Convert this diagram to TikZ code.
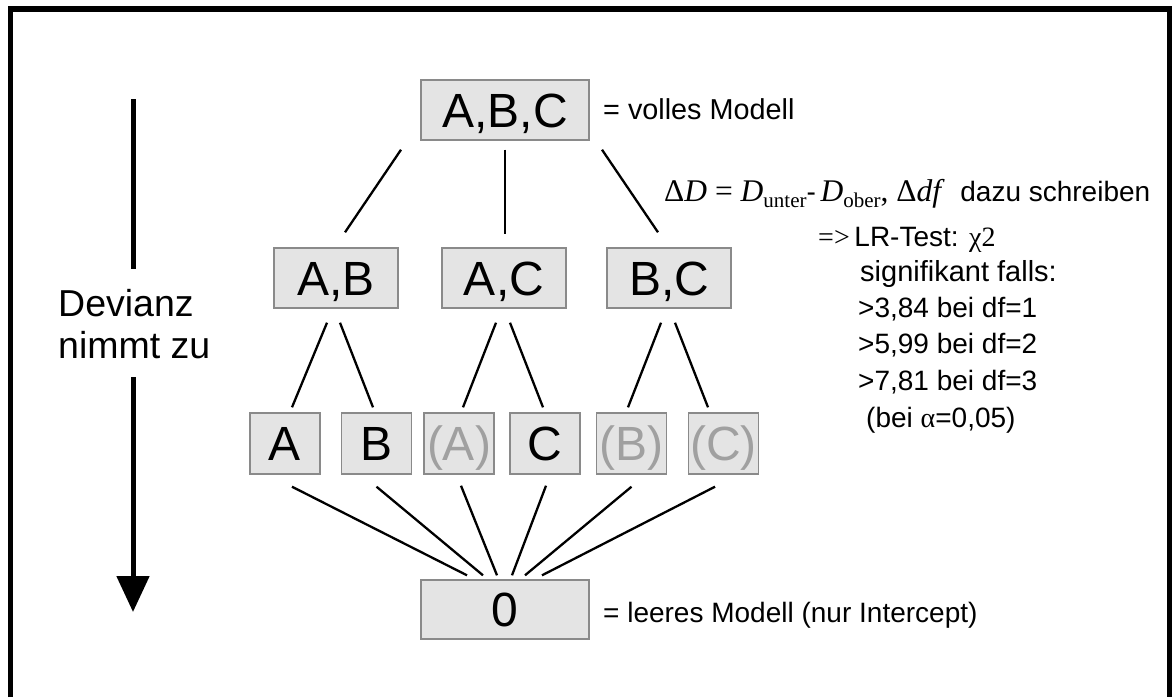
\documentclass[tikz,border=0pt]{standalone}
\usepackage{fontspec}
\setmainfont{Liberation Sans}
\newfontfamily\tim{Liberation Serif}
\usetikzlibrary{arrows.meta}
\definecolor{boxfill}{HTML}{E4E4E4}
\definecolor{boxline}{HTML}{8A8A8A}
\definecolor{fadetext}{HTML}{A0A0A0}
\begin{document}
\begin{tikzpicture}[x=1pt,y=-1pt,
  modelbox/.style={draw=boxline, fill=boxfill, line width=1.4pt, inner sep=0pt,
    font=\fontsize{48}{48}\selectfont, text height=34.4pt, text depth=0pt},
  bigbox/.style={modelbox, minimum width=168pt, minimum height=60pt},
  midbox/.style={modelbox, minimum width=124pt, minimum height=60pt},
  smallbox/.style={modelbox, minimum width=70pt, minimum height=61pt},
  faded/.style={text=fadetext},
  conn/.style={line width=2.3pt},
  lbl/.style={anchor=base west, inner sep=0pt, font=\fontsize{28}{28}\selectfont},
  devlbl/.style={anchor=base west, inner sep=0pt, font=\fontsize{37.5}{37.5}\selectfont},
]
\useasboundingbox (0,0) rectangle (1172,697);
\fill[white] (0,0) rectangle (1172,697);
\draw[line width=5.5pt] (10.5,697) -- (10.5,9) -- (1169.5,9) -- (1169.5,697);

% model nodes
\node[bigbox] (abc) at (505,110) {A,B,C};
\node[midbox] (ab) at (336,278) {A,B};
\node[midbox] (ac) at (504,278) {A,C};
\node[midbox] (bc) at (669,278) {B,C};
\node[smallbox] (a) at (285,443.5) {A};
\node[smallbox] (b) at (376.5,443.5) {B};
\node[smallbox, faded] (pa) at (459,443.5) {(A)};
\node[smallbox] (c) at (545,443.5) {C};
\node[smallbox, faded] (pb) at (631.5,443.5) {(B)};
\node[smallbox, faded] (pc) at (723.5,443.5) {(C)};
\node[bigbox, minimum height=59pt] (zero) at (505,609.5) {0};

% connectors
\draw[conn] ([shift={(-104,9)}]abc.south) -- ([shift={(9,-15)}]ab.north);
\draw[conn] ([shift={(0,9)}]abc.south) -- ([shift={(1,-13)}]ac.north);
\draw[conn] ([shift={(97,9)}]abc.south) -- ([shift={(-11,-15)}]bc.north);
\draw[conn] ([shift={(-9,14)}]ab.south) -- ([shift={(7,-5)}]a.north);
\draw[conn] ([shift={(4,14)}]ab.south) -- ([shift={(-3.5,-5)}]b.north);
\draw[conn] ([shift={(-8,14)}]ac.south) -- ([shift={(4,-5)}]pa.north);
\draw[conn] ([shift={(6,14)}]ac.south) -- ([shift={(-2,-5)}]c.north);
\draw[conn] ([shift={(-8,14)}]bc.south) -- ([shift={(-3.5,-5)}]pb.north);
\draw[conn] ([shift={(6,14)}]bc.south) -- ([shift={(-15.5,-5)}]pc.north);
\draw[conn] ([shift={(7,12)}]a.south) -- ([shift={(-38,-4)}]zero.north);
\draw[conn] ([shift={(0,12)}]b.south) -- ([shift={(-22,-4)}]zero.north);
\draw[conn] ([shift={(2,11)}]pa.south) -- ([shift={(-8,-4)}]zero.north);
\draw[conn] ([shift={(1,11)}]c.south) -- ([shift={(7,-4)}]zero.north);
\draw[conn] ([shift={(0,12)}]pb.south) -- ([shift={(20,-4)}]zero.north);
\draw[conn] ([shift={(-8.5,12)}]pc.south) -- ([shift={(37,-4)}]zero.north);

% side labels
\node[lbl, font=\fontsize{28.8}{28.8}\selectfont] (voll) at (603,119) {= volles Modell};
\node[lbl] (leer) at (603,622) {= leeres Modell (nur Intercept)};

% deviance arrow
\coordinate (arrtop) at (133,99);
\coordinate (arrgapa) at (133,269);
\coordinate (arrgapb) at (133,377);
\coordinate (arrtip) at (133,612);
\draw[line width=5pt] (arrtop) -- (arrgapa);
\draw[line width=5pt, -{Triangle[length=36pt, width=32pt]}] (arrgapb) -- (arrtip);
\node[devlbl] (dev1) at (58,316) {Devianz};
\node[devlbl] (dev2) at (58,358) {nimmt zu};

% test explanation
\node[lbl] (t1) at (664,201) {{\fontsize{31.5}{31.5}\selectfont\tim Δ\textit{D} = \textit{D}\raisebox{-0.22em}{\fontsize{21}{21}\selectfont unter}}-\,{\fontsize{31.5}{31.5}\selectfont\tim\textit{D}\raisebox{-0.22em}{\fontsize{21}{21}\selectfont ober}, Δ\textit{df}}\ \ dazu schreiben};
\node[lbl] (t2) at (818,246) {{\tim =>}\,LR-Test: {\tim χ2}};
\node[lbl, font=\fontsize{29}{29}\selectfont] (t3) at (860,281) {signifikant falls:};
\node[lbl] (t4) at (858,317) {>3,84 bei df=1};
\node[lbl] (t5) at (858,353) {>5,99 bei df=2};
\node[lbl] (t6) at (858,390) {>7,81 bei df=3};
\node[lbl] (t7) at (866,427) {(bei {\tim α}=0,05)};
\end{tikzpicture}
\end{document}
